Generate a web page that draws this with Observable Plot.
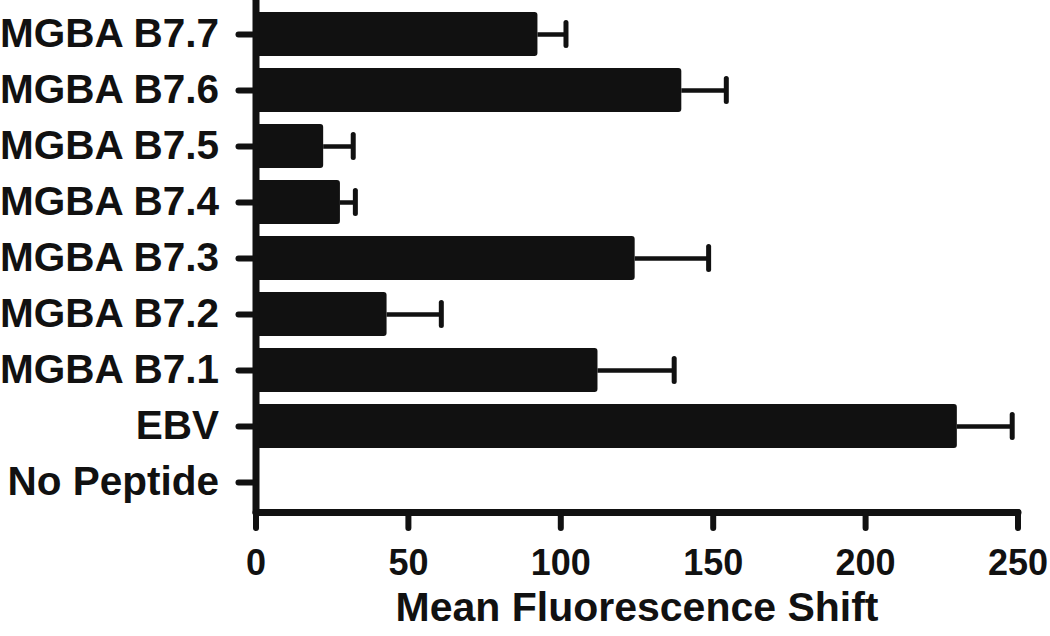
<!DOCTYPE html>
<html><head><meta charset="utf-8">
<script src="https://cdn.jsdelivr.net/npm/d3@7"></script>
<script src="https://cdn.jsdelivr.net/npm/@observablehq/plot@0.6"></script>
<style>
body{margin:0;background:#fff}
svg{display:block}
#chart svg text{font-weight:bold}
</style>
</head><body><div id="chart"></div>
<script>
const categories = ["MGBA B7.7","MGBA B7.6","MGBA B7.5","MGBA B7.4","MGBA B7.3","MGBA B7.2","MGBA B7.1","EBV","No Peptide"];
const means = [92.5, 139.7, 22.2, 27.7, 124.4, 43.0, 112.2, 230.1, 0];
const errors = [9.2, 14.6, 9.7, 4.9, 24.1, 17.8, 25.0, 18.0, 0];
const xTicks = [0, 50, 100, 150, 200, 250];
const axisTitle = "Mean Fluorescence Shift";

const data = categories.map((name, i) => ({name, mean: means[i], err: errors[i], hi: means[i] + errors[i]}));
const bars = data.filter(d => d.mean > 0);
const withErr = data.filter(d => d.err > 0);
const ink = "#111";

const chart = Plot.plot({
  width: 1050,
  height: 636,
  marginLeft: 255.5,
  marginRight: 32.5,
  marginTop: 0,
  marginBottom: 124,
  style: {fontFamily: "'Liberation Sans', Arial, Helvetica, sans-serif", color: ink, background: "#fff", overflow: "visible"},
  x: {domain: [0, 250], ticks: xTicks},
  y: {domain: categories, range: [-1.3, 517.3], padding: 0.22},
  marks: [
    Plot.barX(bars, {x: "mean", y: "name", fill: ink, rx: 3}),
    Plot.ruleY(withErr, {y: "name", x1: "mean", x2: "hi", stroke: ink, strokeWidth: 4.5}),
    Plot.tickX(withErr, {x: "hi", y: "name", stroke: ink, strokeWidth: 5, strokeLinecap: "round", inset: 10.5}),
    Plot.frame({anchor: "left", stroke: ink, strokeWidth: 7, strokeLinecap: "round"}),
    Plot.frame({anchor: "bottom", stroke: ink, strokeWidth: 7, strokeLinecap: "round"}),
    Plot.axisY({anchor: "left", tickSize: 17, tickPadding: 20, fontSize: 40.5, fontWeight: "bold", stroke: ink, strokeWidth: 6, strokeLinecap: "round", label: null}),
    Plot.axisX({anchor: "bottom", ticks: xTicks, tickSize: 16, tickPadding: 21, fontSize: 36, fontWeight: "bold", stroke: ink, strokeWidth: 6, strokeLinecap: "round", label: null}),
    Plot.text([axisTitle], {text: d => d, x: () => 125, frameAnchor: "bottom", dy: 108, fontSize: 41, fontWeight: "bold", fill: ink})
  ]
});
document.getElementById("chart").appendChild(chart);
</script>
</body></html>
